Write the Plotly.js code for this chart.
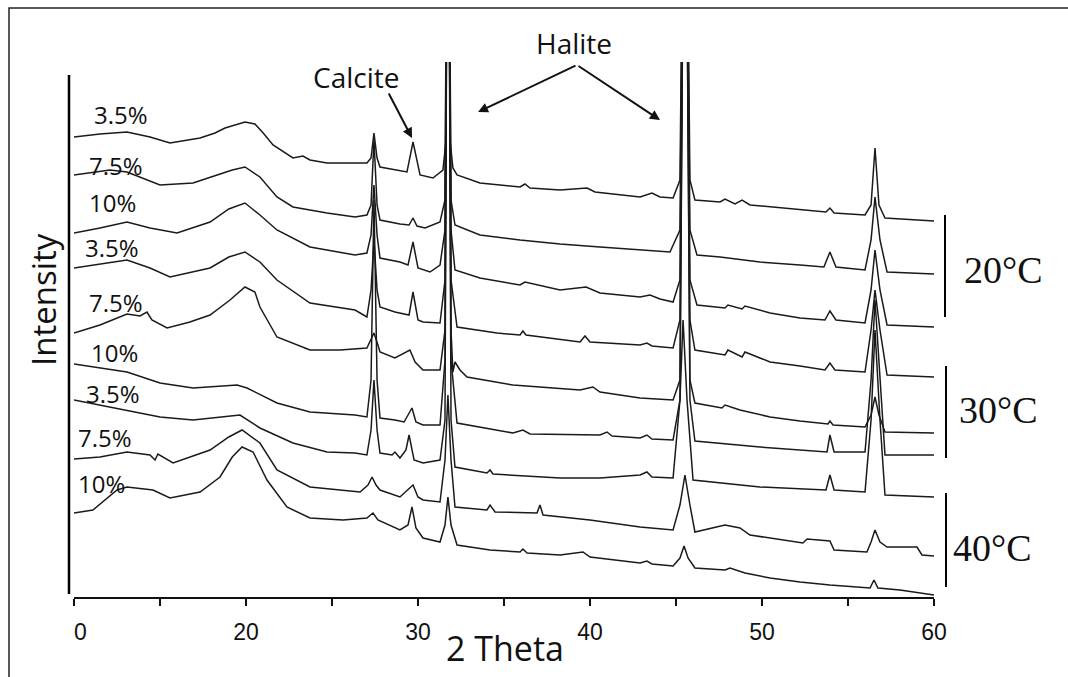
<!DOCTYPE html>
<html>
<head>
<meta charset="utf-8">
<script src="https://cdn.plot.ly/plotly-3.0.1.min.js"></script>
<style>html,body{margin:0;padding:0;background:#fff;}#chart{width:1068px;height:677px;}</style>
</head>
<body>
<div id="chart"></div>
<script>
// 2-theta positions (degrees) and intensities (arbitrary units, stacked)
// Peaks that run off the top of the frame are given 900.
const x_20C_35 = [10.0,11.51,13.08,14.42,15.58,17.33,18.2,18.78,19.94,20.52,21.0,21.57,22.73,23.31,23.72,24.71,27.03,27.27,27.44,27.62,27.79,28.95,29.36,29.71,30.12,30.87,31.45,31.63,31.74,31.86,32.03,32.27,33.60,35.93,36.22,36.51,38.26,39.83,40.29,42.91,43.60,44.07,44.83,45.23,45.52,45.81,46.10,47.56,47.85,48.43,48.84,49.30,52.21,53.72,53.95,54.19,55.99,56.34,56.57,56.80,57.15,60.0];
const y_20C_35 = [460,463,465,460,454,459,464,469,475,473,464,452,439,441,437,434,434,439,464,439,430,426,425,455,422,419,427,457,900,457,429,422,414,410,413,409,407,409,405,400,404,400,399,417,900,417,397,395,398,393,397,392,387,385,389,384,382,392,449,392,379,376];

const x_20C_75 = [10.0,12.09,13.08,15.0,16.92,18.31,19.2,19.94,20.81,21.80,22.73,24.71,26.34,27.03,27.27,27.44,27.62,27.79,28.95,29.48,29.71,29.94,30.41,31.28,31.57,31.74,31.92,32.15,33.60,35.93,38.26,40.58,42.91,44.65,45.23,45.52,45.81,46.22,47.56,49.88,52.21,53.60,53.95,54.30,55.99,56.34,56.57,56.86,57.27,60.0];
const y_20C_75 = [422,427,425,412,414,422,427,430,420,400,390,384,380,382,392,457,392,377,373,372,379,371,369,375,397,900,397,372,362,357,353,350,347,345,367,900,367,342,340,335,332,330,345,330,327,357,400,357,325,323];

const x_20C_10 = [10.0,11.51,13.08,14.42,15.99,17.91,19.0,19.94,20.81,21.80,23.72,26.34,27.03,27.27,27.44,27.62,27.79,28.95,29.42,29.71,30.0,30.70,31.28,31.57,31.74,31.92,32.15,33.60,35.93,36.22,38.26,39.77,40.58,42.91,43.49,44.07,44.83,45.23,45.52,45.81,46.22,47.85,48.02,48.84,49.01,50.47,52.21,53.66,53.95,54.30,55.99,56.34,56.57,56.86,57.27,60.0];
const y_20C_10 = [364,369,375,369,364,375,388,394,382,367,350,342,344,362,412,362,339,335,332,355,329,325,332,367,900,367,327,319,312,315,307,310,304,300,302,298,295,317,900,317,292,289,292,288,291,284,279,277,286,277,274,307,347,307,272,270];

const x_30C_35 = [10.0,11.51,13.08,14.42,15.58,17.91,19.0,19.94,20.81,21.80,23.72,26.34,27.03,27.27,27.44,27.62,27.79,28.66,29.48,29.71,30.0,30.29,31.28,31.57,31.74,31.92,32.27,34.59,35.93,36.10,36.28,39.42,39.71,40.0,42.91,43.31,43.60,44.83,45.23,45.52,45.81,46.10,47.85,48.02,48.84,49.01,50.47,52.21,53.66,53.95,54.24,55.99,56.34,56.57,56.86,57.27,60.0];
const y_30C_35 = [329,333,337,329,320,329,340,345,335,317,294,287,280,307,357,307,290,285,282,305,277,275,274,317,900,317,270,264,262,266,262,255,261,255,252,254,251,249,277,900,277,247,242,247,240,245,235,231,227,234,227,225,267,307,267,222,220];

const x_30C_75 = [10.0,11.51,13.08,13.84,14.24,14.53,15.41,16.74,17.91,19.07,19.94,20.52,20.81,21.80,23.72,25.47,27.03,27.27,27.44,27.67,27.79,28.66,29.53,29.83,30.29,31.28,31.57,31.74,31.92,32.03,32.15,32.44,32.85,35.52,38.26,39.42,40.17,40.58,42.91,44.83,45.23,45.52,45.81,46.10,47.67,47.85,48.72,50.47,52.21,53.84,53.95,54.13,55.99,56.34,56.57,56.80,57.15,60.0];
const y_30C_75 = [264,272,283,281,285,277,269,275,282,297,310,305,290,260,247,247,249,257,264,252,245,239,247,235,227,227,267,900,267,225,235,227,220,212,208,207,210,205,199,197,217,900,217,194,189,192,187,180,176,173,176,172,170,182,200,182,165,164];

const x_30C_10 = [10.0,11.51,13.08,15.0,16.92,19.48,20.06,21.80,23.72,26.34,27.03,27.27,27.44,27.62,27.79,28.66,29.19,29.65,29.88,30.29,31.28,31.57,31.74,31.92,32.27,35.52,36.10,36.51,40.58,40.99,41.28,42.91,43.31,43.60,44.83,45.23,45.52,45.81,46.10,49.88,52.21,53.78,53.95,54.19,55.99,56.34,56.57,56.86,57.15,60.0];
const y_30C_10 = [233,229,225,214,209,212,209,194,185,182,180,217,397,217,179,177,175,189,175,172,172,237,900,237,174,164,167,163,162,165,161,159,162,158,157,197,900,197,156,150,147,145,162,145,145,217,297,217,142,142];

const x_40C_35 = [10.0,12.09,15.0,16.92,19.65,20.81,22.73,24.71,26.34,27.03,27.27,27.44,27.62,27.79,28.49,28.66,28.95,29.30,29.48,29.77,30.29,31.28,31.57,31.74,31.92,32.15,34.01,34.19,34.36,38.26,40.58,42.91,43.31,43.60,44.83,45.23,45.41,45.64,45.99,49.88,52.21,53.72,53.95,54.19,55.99,56.34,56.57,56.86,57.15,60.0];
const y_40C_35 = [197,190,180,177,182,169,154,145,144,142,167,217,167,144,142,145,139,147,162,137,134,137,177,900,177,130,124,127,123,119,119,122,125,120,119,197,277,197,117,110,108,107,122,107,105,177,267,177,102,100];

const x_40C_75 = [10.0,11.51,13.08,14.42,14.71,14.88,15.76,17.91,19.0,19.77,20.81,21.80,23.72,26.63,27.09,27.33,27.56,27.79,28.95,29.71,30.0,30.29,31.28,31.57,31.74,31.92,32.15,34.01,34.19,34.48,36.92,37.09,37.27,40.0,42.91,44.83,45.23,45.52,45.81,46.10,47.85,48.72,49.30,50.47,52.38,52.62,53.95,54.19,56.10,56.34,56.57,56.86,57.27,59.01,59.30,60.0];
const y_40C_75 = [138,140,145,142,137,143,134,147,160,167,154,127,110,105,112,120,112,107,100,112,100,97,95,137,202,137,90,87,92,85,84,92,82,77,70,67,92,122,92,65,72,69,62,59,54,58,56,47,45,55,67,55,50,50,42,41];

const x_40C_10 = [10.0,11.10,12.50,13.08,14.59,15.58,17.33,18.49,19.2,19.77,20.41,21.22,22.38,23.72,25.64,27.03,27.38,27.67,28.95,29.42,29.65,29.88,30.29,31.28,31.57,31.74,31.92,32.27,34.19,35.93,36.10,36.34,38.26,39.59,40.0,42.91,43.31,43.60,44.83,45.23,45.47,45.70,46.10,47.85,48.14,49.01,50.47,52.21,53.95,56.28,56.51,56.74,58.02,60.0];
const y_40C_10 = [84,87,107,110,107,99,105,120,140,150,145,117,90,79,77,79,84,77,67,72,90,69,59,55,72,100,72,52,47,45,48,44,42,45,40,34,36,33,31,39,51,39,29,27,29,24,19,15,12,9,17,9,7,2];

const xSeries = [x_20C_35, x_20C_75, x_20C_10, x_30C_35, x_30C_75, x_30C_10, x_40C_35, x_40C_75, x_40C_10];
const ySeries = [y_20C_35, y_20C_75, y_20C_10, y_30C_35, y_30C_75, y_30C_10, y_40C_35, y_40C_75, y_40C_10];
const seriesNames = ['20°C 3.5%','20°C 7.5%','20°C 10%','30°C 3.5%','30°C 7.5%','30°C 10%','40°C 3.5%','40°C 7.5%','40°C 10%'];

const concLabels = ['3.5%','7.5%','10%','3.5%','7.5%','10%','3.5%','7.5%','10%'];
const tempLabels = ['20°C','30°C','40°C'];
const tickValues = [10,15,20,25,30,35,40,45,50,55,60];
const tickLabels = ['\u00a0\u00a00','','20','','30','','40','','50','','60'];

const traces = xSeries.map((xs, i) => ({
  type: 'scatter', mode: 'lines', x: xs, y: ySeries[i], name: seriesNames[i],
  line: {color: '#1a1a1a', width: 1.5}, hoverinfo: 'skip', showlegend: false
}));

// helpers converting page pixels to paper fractions (plot area: x 74..934, y 62..597)
const PX = p => (p - 74) / 860;
const PY = p => (597 - p) / 535;

const concPos = [[121,115],[116,165],[112,202],[112,248],[116,302],[114,352],[113,393],[105,437],[101,483]];
const tempPos = [[1003,270],[998,410],[992,548]];

const annotations = [];
concLabels.forEach((t, i) => annotations.push({
  text: t, xref: 'paper', yref: 'paper', x: PX(concPos[i][0]), y: PY(concPos[i][1]),
  xanchor: 'center', yanchor: 'middle', showarrow: false,
  font: {family: 'Open Sans, sans-serif', size: 24, color: '#111'}
}));
tempLabels.forEach((t, i) => annotations.push({
  text: t, xref: 'paper', yref: 'paper', x: PX(tempPos[i][0]), y: PY(tempPos[i][1]),
  xanchor: 'center', yanchor: 'middle', showarrow: false,
  font: {family: 'Liberation Serif, serif', size: 38, color: '#111'}
}));
annotations.push({text: 'Intensity', xref: 'paper', yref: 'paper', x: PX(43), y: PY(300), textangle: -90,
  xanchor: 'center', yanchor: 'middle', showarrow: false, font: {family: 'Open Sans, sans-serif', size: 33, color: '#111'}});
annotations.push({text: '2 Theta', xref: 'paper', yref: 'paper', x: PX(505), y: PY(648),
  xanchor: 'center', yanchor: 'middle', showarrow: false, font: {family: 'Open Sans, sans-serif', size: 34, color: '#111'}});
annotations.push({text: 'Calcite', xref: 'paper', yref: 'paper', x: PX(356), y: PY(77),
  xanchor: 'center', yanchor: 'middle', showarrow: false, font: {family: 'Open Sans, sans-serif', size: 28, color: '#111'}});
annotations.push({text: 'Halite', xref: 'paper', yref: 'paper', x: PX(574), y: PY(43),
  xanchor: 'center', yanchor: 'middle', showarrow: false, font: {family: 'Open Sans, sans-serif', size: 28, color: '#111'}});
// arrows
const arrowStyle = {showarrow: true, arrowhead: 2, arrowsize: 1, arrowwidth: 2, arrowcolor: '#111', text: '', xref: 'paper', yref: 'paper'};
annotations.push(Object.assign({}, arrowStyle, {x: PX(412), y: PY(138), ax: -24, ay: -46}));
annotations.push(Object.assign({}, arrowStyle, {x: PX(478), y: PY(112), ax: 99, ay: -47}));
annotations.push(Object.assign({}, arrowStyle, {x: PX(660), y: PY(120), ax: -83, ay: -55}));

const shapes = [
  // outer frame
  {type: 'rect', xref: 'paper', yref: 'paper', x0: PX(9), x1: PX(1100), y0: PY(720), y1: PY(8), line: {color: '#222', width: 1.5}},
  // intensity axis line
  {type: 'line', xref: 'paper', yref: 'paper', x0: PX(69), x1: PX(69), y0: PY(75), y1: PY(594), line: {color: '#000', width: 2.5}},
  // temperature group bars
  {type: 'line', xref: 'paper', yref: 'paper', x0: PX(945), x1: PX(945), y0: PY(215), y1: PY(317), line: {color: '#000', width: 2}},
  {type: 'line', xref: 'paper', yref: 'paper', x0: PX(946), x1: PX(946), y0: PY(366), y1: PY(458), line: {color: '#000', width: 2}},
  {type: 'line', xref: 'paper', yref: 'paper', x0: PX(946), x1: PX(946), y0: PY(493), y1: PY(587), line: {color: '#000', width: 2}}
];

const layout = {
  width: 1068, height: 677,
  margin: {l: 74, r: 134, t: 62, b: 80},
  paper_bgcolor: '#fff', plot_bgcolor: '#fff',
  showlegend: false,
  xaxis: {
    range: [10, 60], showgrid: false, zeroline: false,
    showline: true, linecolor: '#111', linewidth: 2,
    ticks: 'outside', ticklen: 7, tickwidth: 2, tickcolor: '#111',
    tickvals: tickValues, ticktext: tickLabels, ticklabelstandoff: 6,
    tickfont: {family: 'Liberation Sans, Arial, sans-serif', size: 23, color: '#111'},
    fixedrange: true
  },
  yaxis: {range: [0, 535], visible: false, fixedrange: true},
  annotations: annotations,
  shapes: shapes
};

Plotly.newPlot('chart', traces, layout, {displayModeBar: false, staticPlot: true});
</script>
</body>
</html>
